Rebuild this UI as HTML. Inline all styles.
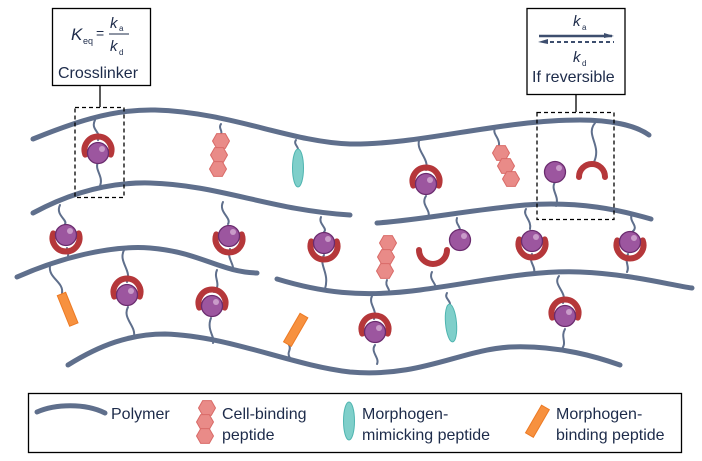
<!DOCTYPE html>
<html><head><meta charset="utf-8"><style>
html,body{margin:0;padding:0;background:#fff;width:702px;height:461px;overflow:hidden}
svg{display:block}
text{font-family:"Liberation Sans",sans-serif;fill:#1d2b4a}
</style></head><body>
<svg width="702" height="461" viewBox="0 0 702 461" xmlns="http://www.w3.org/2000/svg">
<defs>
<g id="cu"><path d="M-12.7,2.6 A13.5,13.5 0 1,1 12.7,2.6" fill="none" stroke="#b5373a" stroke-width="6" stroke-linecap="round"/><circle cx="0" cy="1" r="10.5" fill="#9c569f" stroke="#6a2b6e" stroke-width="1.3"/><circle cx="4" cy="-3" r="3" fill="#c99bc9"/></g>
<g id="cd"><path d="M-12.7,-2.6 A13.5,13.5 0 1,0 12.7,-2.6" fill="none" stroke="#b5373a" stroke-width="6" stroke-linecap="round"/><circle cx="0" cy="-1" r="10.5" fill="#9c569f" stroke="#6a2b6e" stroke-width="1.3"/><circle cx="4" cy="-5" r="3" fill="#c99bc9"/></g>
<g id="hx"><polygon points="-8.5,0 -4.3,-7.4 4.3,-7.4 8.5,0 4.3,7.4 -4.3,7.4" fill="#e98b88" stroke="#d96b68" stroke-width="1"/></g>
</defs>
<g fill="none" stroke="#5f6f8c" stroke-width="2" stroke-linecap="round">
<path d="M95,120 C90,130 102,132 98,140"/><path d="M98,162 C94,170 104,176 100,186"/>
<path d="M221,124 C218,128 223,131 221,134"/>
<path d="M296,140 C293,144 299,147 298,150"/>
<path d="M420,138 C414,150 430,158 426,170"/><path d="M426,196 C420,205 432,210 428,218"/>
<path d="M495,128 C492,134 500,138 499,145"/>
<path d="M595,123 C585,135 602,145 594,162"/>
<path d="M555,182 C550,190 560,196 556,206"/>
<path d="M60,205 C55,215 68,220 65,224"/><path d="M67,248 C66,250 69,252 68,256"/>
<path d="M223,202 C218,212 232,218 228,224"/><path d="M230,249 C226,258 236,266 232,270"/>
<path d="M321,217 C318,224 328,228 324,232"/><path d="M324,255 C318,265 330,272 325,289"/>
<path d="M50,266 C48,278 64,282 62,293"/>
<path d="M124,250 C118,262 132,270 127,282"/><path d="M128,307 C122,318 136,326 134,336"/>
<path d="M217,270 C213,278 222,284 214,292"/><path d="M211,318 C206,330 216,338 213,343"/>
<path d="M290,358 C286,352 292,350 289,345"/>
<path d="M372,296 C368,304 378,310 374,319"/><path d="M375,345 C370,352 380,358 377,364"/>
<path d="M387,280 C384,287 392,289 388,294"/>
<path d="M432,272 C428,280 438,284 435,289"/>
<path d="M457,218 C455,223 460,226 460,230"/>
<path d="M447,293 C444,298 450,300 450,304"/>
<path d="M526,209 C522,215 532,220 530,229"/><path d="M532,254 C528,262 536,266 534,273"/>
<path d="M632,214 C628,222 640,226 632,232"/><path d="M628,254 C624,262 630,266 627,272"/>
<path d="M559,276 C552,285 568,292 563,303"/><path d="M565,329 C560,338 568,342 561,350"/>
</g>
<g fill="none" stroke="#5f6f8c" stroke-width="5" stroke-linecap="round">
<path d="M33,139 C70,124 110,109 155,110 C230,112 290,142 350,144 C420,145 500,120 580,120 C610,120 635,125 649,135"/>
<path d="M33,213 C70,193 110,182 150,183 C220,185 270,210 350,215"/>
<path d="M377,223 C420,220 470,210 525,205 C580,201 620,210 651,219"/>
<path d="M17,277 C60,258 110,245 150,248 C200,252 220,272 257,273"/>
<path d="M277,279 C320,292 360,298 420,290 C480,282 530,270 580,272 C630,274 670,285 692,288"/>
<path d="M68,365 C100,345 130,334 165,334 C230,336 290,365 350,372 C420,378 460,350 510,347 C560,345 600,358 620,365"/>
</g>
<use href="#cu" x="98" y="152"/><use href="#cu" x="426" y="183"/>
<use href="#cd" x="66" y="236"/><use href="#cd" x="229" y="237"/><use href="#cd" x="324" y="244"/>
<use href="#cd" x="532" y="242"/><use href="#cd" x="630" y="243"/>
<use href="#cu" x="127" y="294"/><use href="#cu" x="212" y="305"/>
<use href="#cu" x="375" y="331"/><use href="#cu" x="565" y="315"/>
<circle cx="555" cy="172" r="10.5" fill="#9c569f" stroke="#6a2b6e" stroke-width="1.3"/><circle cx="559" cy="168" r="3" fill="#c99bc9"/>
<path d="M579,177 A13,13 0 1,1 605,177" fill="none" stroke="#b5373a" stroke-width="6" stroke-linecap="round"/>
<circle cx="460" cy="240" r="10.5" fill="#9c569f" stroke="#6a2b6e" stroke-width="1.3"/><circle cx="464" cy="236" r="3" fill="#c99bc9"/>
<path d="M419,250 A14,14 0 1,0 447,250" fill="none" stroke="#b5373a" stroke-width="6" stroke-linecap="round"/>
<use href="#hx" x="221" y="141"/><use href="#hx" x="219" y="155"/><use href="#hx" x="218" y="169"/>
<use href="#hx" x="501" y="153"/><use href="#hx" x="506" y="166"/><use href="#hx" x="511" y="179"/>
<use href="#hx" x="388" y="243"/><use href="#hx" x="386" y="257"/><use href="#hx" x="385" y="271"/>
<ellipse cx="298" cy="168" rx="5.5" ry="19" fill="#7fcfca" stroke="#4fb5b0" stroke-width="1"/>
<ellipse cx="451" cy="323" rx="5.5" ry="19" fill="#7fcfca" stroke="#4fb5b0" stroke-width="1" transform="rotate(-5 451 323)"/>
<rect x="63" y="293" width="9" height="33" fill="#f7913f" stroke="#ec7a24" transform="rotate(-22 67 309)"/>
<rect x="291" y="313" width="9" height="33" fill="#f7913f" stroke="#ec7a24" transform="rotate(30 295 330)"/>
<g fill="none" stroke="#000" stroke-width="1.3">
<rect x="52.5" y="8.5" width="98" height="77"/>
<line x1="100" y1="86" x2="100" y2="107"/>
<rect x="75" y="107.5" width="49" height="90" stroke-dasharray="4,3"/>
<rect x="527" y="8.5" width="98" height="86"/>
<line x1="576" y1="95" x2="576" y2="112"/>
<rect x="537" y="112.5" width="77" height="107" stroke-dasharray="4,3"/>
</g>
<text x="71" y="40" font-size="17" font-style="italic">K</text><text x="83" y="44" font-size="9">eq</text>
<text x="96" y="38" font-size="14">=</text>
<text x="110" y="28" font-size="15" font-style="italic">k</text><text x="119" y="31" font-size="8">a</text>
<line x1="109" y1="34" x2="129" y2="34" stroke="#1d2b4a" stroke-width="1"/>
<text x="110" y="51" font-size="15" font-style="italic">k</text><text x="119" y="55" font-size="8">d</text>
<text x="58" y="78" font-size="16">Crosslinker</text>
<text x="573" y="26" font-size="15" font-style="italic">k</text><text x="582" y="30" font-size="8">a</text>
<line x1="539" y1="36" x2="612" y2="36" stroke="#3d4e6e" stroke-width="2.5"/>
<polygon points="604,33 614,36 604,38" fill="#3d4e6e"/>
<line x1="543" y1="42" x2="614" y2="42" stroke="#3d4e6e" stroke-width="2" stroke-dasharray="4,3"/>
<polygon points="548,39 538,42 548,44" fill="#3d4e6e"/>
<text x="573" y="62" font-size="15" font-style="italic">k</text><text x="582" y="66" font-size="8">d</text>
<text x="532" y="82" font-size="16">If reversible</text>
<rect x="28.5" y="393.5" width="653" height="59" fill="none" stroke="#000" stroke-width="1.3"/>
<path d="M37,412 C55,404 85,403 105,413" fill="none" stroke="#5f6f8c" stroke-width="5" stroke-linecap="round"/>
<text x="111" y="419" font-size="16">Polymer</text>
<use href="#hx" x="207" y="408"/><use href="#hx" x="205" y="422"/><use href="#hx" x="205" y="436"/>
<text x="222" y="419" font-size="16">Cell-binding</text><text x="222" y="440" font-size="16">peptide</text>
<ellipse cx="349" cy="421" rx="5.5" ry="19" fill="#7fcfca" stroke="#4fb5b0"/>
<text x="362" y="419" font-size="16">Morphogen-</text><text x="362" y="440" font-size="16">mimicking peptide</text>
<rect x="533" y="405" width="9" height="32" fill="#f7913f" stroke="#ec7a24" transform="rotate(30 537 421)"/>
<text x="556" y="419" font-size="16">Morphogen-</text><text x="556" y="440" font-size="16">binding peptide</text>
</svg>
</body></html>
